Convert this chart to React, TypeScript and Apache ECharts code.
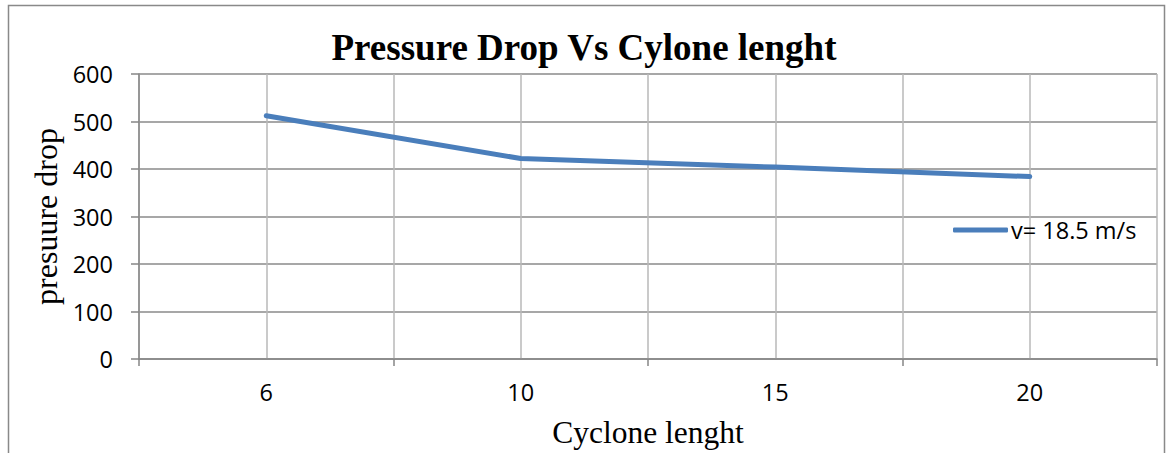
import React, { useEffect, useRef } from "react";
import * as echarts from "echarts";

const categories = ["6", "10", "15", "20"];
const pressureDrop = [512, 422, 404, 384];
const seriesName = "v= 18.5 m/s";
const titleText = "Pressure Drop Vs Cylone lenght";
const xTitle = "Cyclone lenght";
const yTitle = "presuure drop";

export default function App() {
  const ref = useRef<HTMLDivElement>(null);
  useEffect(() => {
    if (!ref.current) return;
    const chart = echarts.init(ref.current, null, { renderer: "svg" });
    const sans = "'Open Sans', sans-serif";
    const serif = "'Liberation Serif', 'Times New Roman', serif";
    chart.setOption({
      animation: false,
      backgroundColor: "#ffffff",
      title: {
        text: titleText,
        left: "center",
        top: 29,
        padding: 0,
        textStyle: { fontFamily: serif, fontWeight: "bold", fontSize: 37, color: "#000" },
      },
      graphic: [
        {
          type: "rect",
          shape: { x: 8.5, y: 5.5, width: 1156, height: 480 },
          style: { fill: "none", stroke: "#898989", lineWidth: 1.5 },
          silent: true,
        },
      ],
      legend: {
        left: 953,
        top: 218,
        padding: 0,
        data: [seriesName],
        icon: "roundRect",
        itemWidth: 55,
        itemHeight: 5,
        itemGap: 4,
        textStyle: { fontFamily: sans, fontSize: 23.5, color: "#000", padding: [0, 0, 0, -2] },
      },
      grid: { left: 139, right: 11, top: 74, bottom: 94, containLabel: false },
      xAxis: [
        {
          type: "category",
          data: categories,
          boundaryGap: true,
          axisLine: { show: true, lineStyle: { color: "#868686", width: 1.5 } },
          axisTick: { show: true, length: 7, lineStyle: { color: "#868686", width: 1.5 } },
          axisLabel: { fontFamily: sans, fontSize: 23.5, color: "#000", margin: 21 },
          splitLine: { show: false },
          name: xTitle,
          nameLocation: "middle",
          nameGap: 57,
          nameTextStyle: { fontFamily: serif, fontSize: 31.5, color: "#000" },
        },
        {
          type: "value",
          min: 0,
          max: 8,
          interval: 1,
          position: "bottom",
          axisLine: { show: false },
          axisTick: { show: false },
          axisLabel: { show: false },
          splitLine: { show: true, lineStyle: { color: "#b8b8b8", width: 1.5 } },
        },
      ],
      yAxis: {
        type: "value",
        min: 0,
        max: 600,
        interval: 100,
        axisLine: { show: true, lineStyle: { color: "#868686", width: 1.5 } },
        axisTick: { show: true, length: 8, lineStyle: { color: "#868686", width: 1.5 } },
        axisLabel: { fontFamily: sans, fontSize: 23.5, color: "#000", margin: 26 },
        splitLine: { show: true, lineStyle: { color: "#8a8a8a", width: 1.5 } },
        name: yTitle,
        nameLocation: "middle",
        nameGap: 74,
        nameRotate: 90,
        nameTextStyle: { fontFamily: serif, fontSize: 32, color: "#000" },
      },
      series: [
        {
          name: seriesName,
          type: "line",
          xAxisIndex: 0,
          data: pressureDrop,
          showSymbol: false,
          symbol: "none",
          lineStyle: { color: "#4a7ebb", width: 5, cap: "round", join: "round" },
          itemStyle: { color: "#4a7ebb" },
        },
      ],
    });
    return () => chart.dispose();
  }, []);
  return (
    <div
      ref={ref}
      style={{ position: "fixed", left: 0, top: 0, width: 1168, height: 453, background: "#fff" }}
    />
  );
}
